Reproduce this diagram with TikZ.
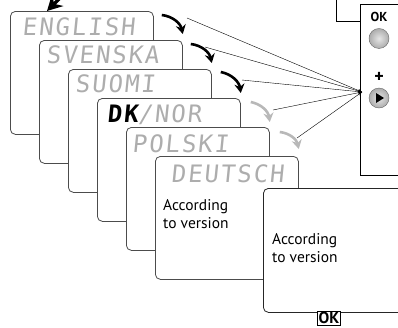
\documentclass[tikz,border=0pt]{standalone}
\usepackage{fontspec}
\setmainfont{PT Sans}
\newfontfamily\lcdfont[FakeSlant=0.1,LetterSpace=8]{DejaVu Sans Mono}
\usetikzlibrary{arrows.meta,positioning}

\definecolor{lcdgray}{gray}{0.68}
\definecolor{edgegray}{gray}{0.3}
\definecolor{fadegray}{gray}{0.72}

\tikzset{
    card/.style = {
        draw=edgegray,
        fill=white,
        line width=0.8pt,
        rounded corners=5pt,
        minimum width=143pt,
        minimum height=123pt,
        anchor=north west,
        inner sep=0pt
    },
    lcd/.style = {
        lcdgray,
        font=\lcdfont\fontsize{24}{24}\selectfont,
        anchor=base west,
        inner sep=0pt
    },
    turn/.style = {
        line width=2.6pt,
        -{Stealth[length=9pt,width=10pt]},
        bend left=35
    },
    pointer/.style = {
        thin,
        -{Stealth[length=4pt,width=3pt]}
    },
    note/.style = {
        font=\fontsize{15.5}{18}\selectfont,
        align=left,
        anchor=north west,
        inner sep=0pt
    },
    btn/.style = {
        circle,
        draw=black!60,
        shade,
        inner color=gray!20,
        outer color=gray!65,
        minimum size=20pt,
        inner sep=0pt
    }
}

\begin{document}
\begin{tikzpicture}[x=1pt, y=-1pt]
    \useasboundingbox (0,0) rectangle (398,327);

    % Draw all cards with their texts
    \node[card] (english) at (10,11) {};
    \node[lcd] at ([shift={(12,24)}]english.north west) {ENGLISH};
    \node[card] (svenska) at (39,40) {};
    \node[lcd] at ([shift={(7,23)}]svenska.north west) {SVENSKA};
    \node[card] (suomi) at (68,69) {};
    \node[lcd] at ([shift={(7,23)}]suomi.north west) {SUOMI};
    \node[card] (dknor) at (97,98) {};
    \node[lcd] at ([shift={(10,24)}]dknor.north west) {{\color{black}\bfseries DK}/NOR};
    \node[card] (polski) at (126,127) {};
    \node[lcd] at ([shift={(6,25)}]polski.north west) {POLSKI};
    \node[card] (deutsch) at (155,156) {};
    \node[lcd] at ([shift={(16,26)}]deutsch.north west) {DEUTSCH};
    \node[note] at ([shift={(8,43)}]deutsch.north west) {According\\to version};
    \node[card, draw=black!85, minimum width=160pt, minimum height=124pt] (version) at (263,188) {};
    \node[note] at ([shift={(9,45)}]version.north west) {According\\to version};
    \node[draw, line width=0.9pt, fill=white, font=\bfseries\fontsize{16}{16}\selectfont, inner sep=1.2pt] (okkey) at (329,318) {OK};

    % Arrow coming in from the top
    \draw[line width=3.5pt, -{Stealth[length=15pt,width=16pt]}] (72,-14) -- (47,11);

    % Draw arrows between cards
    \draw[turn] ([shift={(8,4)}]english.north east) to ([shift={(0,-6)}]svenska.north east);
    \draw[turn] ([shift={(8,4)}]svenska.north east) to ([shift={(0,-6)}]suomi.north east);
    \draw[turn] ([shift={(9,3)}]suomi.north east) to ([shift={(0,-5)}]dknor.north east);
    \draw[turn, fadegray] ([shift={(10,4)}]dknor.north east) to ([shift={(0,-5)}]polski.north east);
    \draw[turn, fadegray] ([shift={(10,5)}]polski.north east) to ([shift={(0,-7)}]deutsch.north east);

    % Draw the key panel
    \node[draw, fill=white, line width=0.8pt, minimum width=60pt, minimum height=171pt, anchor=north west, inner sep=0pt] (panel) at (360,4) {};
    \coordinate (ledge) at (336,-2);
    \coordinate (lcorner) at (360,21);
    \draw[line width=0.8pt] (ledge) |- (lcorner);
    \node[font=\bfseries\fontsize{13}{13}\selectfont] (oklabel) at (379,17) {OK};
    \node[btn, below=3pt of oklabel] (okbtn) {};
    \node[font=\bfseries\fontsize{18}{18}\selectfont] (pluslabel) at (379,77) {+};
    \node[btn] (plusbtn) at (379,98) {};
    \fill (plusbtn.center) ++(-3,-5) -- ++(8,5) -- ++(-8,5) -- cycle;

    % Draw pointers to the + key
    \coordinate (tip) at (362,92);
    \coordinate (s1) at (187,18);
    \coordinate (s2) at (205,47);
    \coordinate (s3) at (242,80);
    \coordinate (s4) at (273,110);
    \coordinate (s5) at (297,138);
    \foreach \i in {1,...,5}
        \draw[pointer] (s\i) -- (tip);
\end{tikzpicture}
\end{document}
